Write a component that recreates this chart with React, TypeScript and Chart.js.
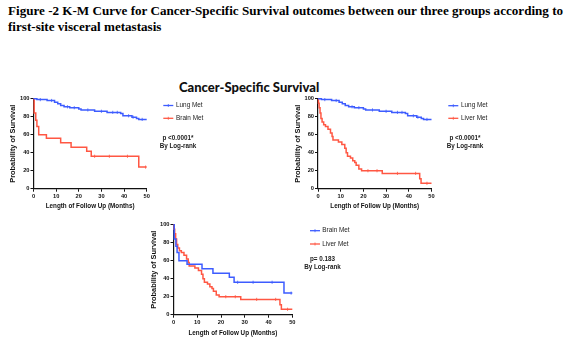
import React, { useEffect, useRef } from 'react';
import { Chart, registerables } from 'chart.js';

Chart.register(...registerables);

// ---- data ----
const xTicks = [0, 10, 20, 30, 40, 50];
const yTicks = [0, 20, 40, 60, 80, 100];

const lungTimes = [0, 1.5, 6, 9.3, 10.7, 12, 13.5, 16, 20, 21, 27, 32.5, 38.5, 39.5, 43.5, 45.5, 46.5, 50];
const lungSurv = [100, 99, 98, 96, 94.5, 92.5, 91, 90, 88.5, 87.5, 86, 84.8, 83.5, 81, 79.5, 78, 77, 77];
const lungCensor = [3, 8, 15, 18, 24, 30, 35, 37, 42, 44, 48];

const brainTimes = [0, 0.3, 1, 1.5, 2.3, 5.7, 12, 16.6, 23.5, 25.5, 46.5, 50];
const brainSurv = [100, 84, 76, 69, 60, 56, 51, 46, 41.5, 36, 24, 24];
const brainCensor = [27, 33.5, 41.5, 49.5];

const liverTimes = [0, 0.2, 0.5, 0.9, 1.3, 1.8, 2.5, 3.3, 4.4, 5.5, 6.2, 6.6, 9, 10.5, 11.8, 12.4, 13, 14.3, 15.3, 16.2, 16.8, 18, 19.2, 28.3, 44.8, 45.4, 50];
const liverSurv = [100, 95, 90, 84, 78, 74, 71, 69, 66, 62, 58, 54, 52, 49, 45, 40, 36, 34, 31, 29, 26, 22, 20, 17, 11, 6, 6];
const liverCensor = [22, 26, 35, 43, 48];

const pValues = ['p <0.0001*', 'p <0.0001*', 'p= 0.183'];
const pMethod = 'By Log-rank';

const BLUE = '#3d5cff';
const RED = '#ff5743';
const FONT = '"Liberation Sans", Arial, sans-serif';

type Series = { label: string; times: number[]; surv: number[]; censor: number[]; color: string };

const survAt = (times: number[], surv: number[], t: number) => {
  let v = surv[0];
  for (let i = 0; i < times.length; i++) if (times[i] <= t) v = surv[i];
  return v;
};

const kmLegendPlugin = {
  id: 'kmLegend',
  afterDraw(chart: any) {
    const o = chart.options.plugins.kmLegend;
    if (!o) return;
    const ctx = chart.ctx;
    ctx.save();
    o.items.forEach((it: any, i: number) => {
      const y = o.ys[i];
      ctx.strokeStyle = it.color;
      ctx.lineWidth = 1.3;
      ctx.beginPath();
      ctx.moveTo(o.lineX0, y);
      ctx.lineTo(o.lineX1, y);
      ctx.stroke();
      ctx.lineWidth = 0.8;
      const mx = (o.lineX0 + o.lineX1) / 2;
      ctx.beginPath();
      ctx.moveTo(mx, y - 1.5);
      ctx.lineTo(mx, y + 1.5);
      ctx.stroke();
      ctx.fillStyle = '#222';
      ctx.font = `6.4px ${FONT}`;
      ctx.textAlign = 'left';
      ctx.textBaseline = 'middle';
      ctx.fillText(it.label, o.textX, y);
    });
    ctx.font = `bold 6.3px ${FONT}`;
    ctx.textAlign = 'center';
    ctx.fillStyle = '#222';
    o.pLines.forEach((s: string, i: number) => ctx.fillText(s, o.pX, o.pYs[i]));
    ctx.restore();
  },
};

type Spec = {
  area: { left: number; top: number; right: number; bottom: number };
  yTitleX: number;
  xTitleY: number;
  series: Series[];
  legend: { lineX0: number; lineX1: number; textX: number; ys: number[] };
  p: { x: number; ys: number[]; lines: string[] };
};

const W = 579;
const H = 362;
const Y_TITLE_SIZE = 7.4;
const X_TITLE_SIZE = 6.3;
const TICK_SIZE = 5.7;

function buildConfig(spec: Spec): any {
  const padL = spec.yTitleX - (Y_TITLE_SIZE * 1.2) / 2;
  const yAxisW = spec.area.left - padL;
  const xAxisH = spec.xTitleY + (X_TITLE_SIZE * 1.2) / 2 - spec.area.bottom;
  const datasets: any[] = [];
  spec.series.forEach((s) => {
    datasets.push({
      type: 'line',
      label: s.label,
      data: s.times.map((t, i) => ({ x: t, y: s.surv[i] })),
      borderColor: s.color,
      borderWidth: 1.5,
      stepped: true,
      pointRadius: 0,
      fill: false,
      clip: 6,
    });
    datasets.push({
      type: 'line',
      label: s.label + ' censored',
      data: s.censor.map((t) => ({ x: t, y: survAt(s.times, s.surv, t) })),
      showLine: false,
      borderColor: s.color,
      pointStyle: 'line',
      rotation: 90,
      pointRadius: 1.6,
      pointBorderWidth: 0.8,
      clip: 6,
    });
  });
  const tickFont = { family: FONT, size: TICK_SIZE, weight: 'bold' };
  return {
    type: 'line',
    data: { datasets },
    plugins: [kmLegendPlugin],
    options: {
      animation: false,
      responsive: false,
      events: [],
      layout: {
        padding: {
          left: padL,
          top: spec.area.top,
          right: W - spec.area.right,
          bottom: H - spec.area.bottom - xAxisH,
        },
      },
      plugins: {
        legend: { display: false },
        tooltip: { enabled: false },
        kmLegend: {
          items: spec.series.map((s) => ({ label: s.label, color: s.color })),
          lineX0: spec.legend.lineX0,
          lineX1: spec.legend.lineX1,
          textX: spec.legend.textX,
          ys: spec.legend.ys,
          pLines: spec.p.lines,
          pX: spec.p.x,
          pYs: spec.p.ys,
        },
      },
      scales: {
        x: {
          type: 'linear',
          min: 0,
          max: 50,
          afterBuildTicks: (s: any) => {
            s.ticks = xTicks.map((v) => ({ value: v }));
          },
          ticks: { font: tickFont, color: '#111', padding: 1, maxRotation: 0, autoSkip: false },
          grid: { display: true, drawOnChartArea: false, drawTicks: true, tickLength: 3, color: '#111', lineWidth: 1 },
          border: { display: true, color: '#111', width: 1.2 },
          title: {
            display: true,
            text: 'Length of Follow Up (Months)',
            font: { family: FONT, size: X_TITLE_SIZE, weight: 'bold' },
            color: '#111',
            padding: 0,
          },
          afterFit: (s: any) => {
            s.height = xAxisH;
          },
        },
        y: {
          type: 'linear',
          min: 0,
          max: 100,
          afterBuildTicks: (s: any) => {
            s.ticks = yTicks.map((v) => ({ value: v }));
          },
          ticks: { font: tickFont, color: '#111', padding: 1 },
          grid: { display: true, drawOnChartArea: false, drawTicks: true, tickLength: 3, color: '#111', lineWidth: 1 },
          border: { display: true, color: '#111', width: 1.2 },
          title: {
            display: true,
            text: 'Probability of Survival',
            font: { family: FONT, size: Y_TITLE_SIZE, weight: 'bold' },
            color: '#111',
            padding: 0,
          },
          afterFit: (s: any) => {
            s.width = yAxisW;
          },
        },
      },
    },
  };
}

const lung: Series = { label: 'Lung Met', times: lungTimes, surv: lungSurv, censor: lungCensor, color: BLUE };
const brainRed: Series = { label: 'Brain Met', times: brainTimes, surv: brainSurv, censor: brainCensor, color: RED };
const brainBlue: Series = { ...brainRed, color: BLUE };
const liver: Series = { label: 'Liver Met', times: liverTimes, surv: liverSurv, censor: liverCensor, color: RED };

const specs: Spec[] = [
  {
    area: { left: 33.5, top: 98.7, right: 146.7, bottom: 188.7 },
    yTitleX: 13,
    xTitleY: 206.7,
    series: [lung, brainRed],
    legend: { lineX0: 163.3, lineX1: 173.3, textX: 176, ys: [105.5, 118.3] },
    p: { x: 178, ys: [138.5, 146], lines: [pValues[0], pMethod] },
  },
  {
    area: { left: 318, top: 98.7, right: 431.5, bottom: 188.7 },
    yTitleX: 298.3,
    xTitleY: 206.7,
    series: [lung, liver],
    legend: { lineX0: 448.3, lineX1: 458.3, textX: 461, ys: [105.7, 118.3] },
    p: { x: 465, ys: [138.5, 146.5], lines: [pValues[1], pMethod] },
  },
  {
    area: { left: 173.5, top: 224.7, right: 292.3, bottom: 314.7 },
    yTitleX: 154,
    xTitleY: 333.3,
    series: [brainBlue, liver],
    legend: { lineX0: 310, lineX1: 320, textX: 322.3, ys: [230.7, 244] },
    p: { x: 322.5, ys: [259.3, 267.3], lines: [pValues[2], pMethod] },
  },
];

function KMChart({ spec }: { spec: Spec }) {
  const ref = useRef<HTMLCanvasElement | null>(null);
  useEffect(() => {
    if (!ref.current) return;
    const chart = new Chart(ref.current, buildConfig(spec));
    return () => chart.destroy();
  }, [spec]);
  return (
    <canvas
      ref={ref}
      width={W}
      height={H}
      style={{ position: 'absolute', left: 0, top: 0, width: W, height: H }}
    />
  );
}

export default function App() {
  return (
    <div style={{ position: 'absolute', left: 0, top: 0, width: W, height: H, background: '#fff', overflow: 'hidden' }}>
      <div
        style={{
          position: 'absolute',
          left: 8,
          top: 2.7,
          fontFamily: '"Liberation Serif", "Times New Roman", serif',
          fontWeight: 'bold',
          fontSize: 13.1,
          lineHeight: '16px',
          whiteSpace: 'nowrap',
          color: '#000',
        }}
      >
        Figure -2 K-M Curve for Cancer-Specific Survival outcomes between our three groups according to
        <br />
        first-site visceral metastasis
      </div>
      <div
        style={{
          position: 'absolute',
          left: 179,
          top: 78.5,
          fontFamily: 'Lato, "Open Sans", sans-serif',
          fontWeight: 900,
          fontSize: 13,
          lineHeight: '16px',
          whiteSpace: 'nowrap',
          color: '#111',
        }}
      >
        Cancer-Specific Survival
      </div>
      {specs.map((s, i) => (
        <KMChart key={i} spec={s} />
      ))}
    </div>
  );
}
